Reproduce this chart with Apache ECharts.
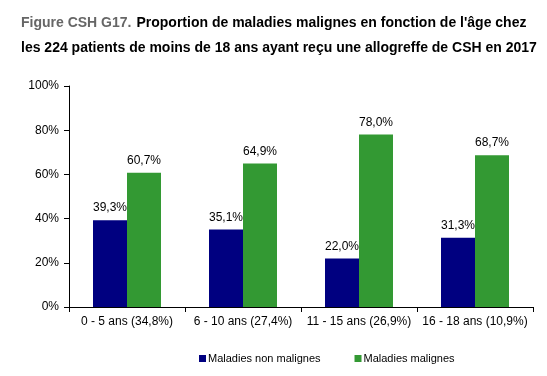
<!DOCTYPE html>
<html>
<head>
<meta charset="utf-8">
<script src="https://cdn.jsdelivr.net/npm/echarts@6/dist/echarts.min.js"></script>
<style>
  html, body { margin: 0; padding: 0; background: #fff; }
  #chart { width: 547px; height: 376px; }
</style>
</head>
<body>
<div id="chart"></div>
<script>
const categories = ['0 - 5 ans (34,8%)', '6 - 10 ans (27,4%)', '11 - 15 ans (26,9%)', '16 - 18 ans (10,9%)'];
const nonMalignes = [39.3, 35.1, 22.0, 31.3];
const malignes = [60.7, 64.9, 78.0, 68.7];
const yTicks = [0, 20, 40, 60, 80, 100];

const chart = echarts.init(document.getElementById('chart'));

const fmt = v => v.toFixed(1).replace('.', ',') + '%';

const option = {
  animation: false,
  textStyle: { fontFamily: 'Liberation Sans, Arial, sans-serif' },
  title: {
    left: 16,
    top: 6,
    text: '{g|Figure CSH G17.} {b|Proportion de maladies malignes en fonction de l\'âge chez}\n{b|les 224 patients de moins de 18 ans ayant reçu une allogreffe de CSH en 2017}',
    textStyle: {
      rich: {
        g: { color: '#666666', fontSize: 14, fontWeight: 'bold', fontFamily: 'Liberation Sans', lineHeight: 25 },
        b: { color: '#000000', fontSize: 14, fontWeight: 'bold', fontFamily: 'Liberation Sans', lineHeight: 25 }
      }
    }
  },
  legend: {
    bottom: 7,
    left: 194,
    itemWidth: 7,
    itemHeight: 7,
    itemGap: 34,
    icon: 'rect',
    textStyle: { fontSize: 11, color: '#000', padding: [0, 0, 0, -3] },
    data: ['Maladies non malignes', 'Maladies malignes']
  },
  grid: { left: 69, right: 14, top: 86, bottom: 69 },
  xAxis: {
    type: 'category',
    data: categories,
    axisLine: { lineStyle: { color: '#000' } },
    axisTick: { show: true, length: 5, lineStyle: { color: '#000' } },
    axisLabel: { color: '#000', fontSize: 12, margin: 9, interval: 0 }
  },
  yAxis: {
    type: 'value',
    min: 0,
    max: 100,
    interval: 20,
    axisLine: { show: true, lineStyle: { color: '#000' } },
    axisTick: { show: true, length: 5, lineStyle: { color: '#000' } },
    splitLine: { show: false },
    axisLabel: {
      color: '#000', fontSize: 12, margin: 10,
      formatter: v => yTicks.includes(v) ? v + '%' : ''
    }
  },
  series: [
    {
      name: 'Maladies non malignes',
      type: 'bar',
      data: nonMalignes,
      barWidth: 34,
      barGap: '0%',
      itemStyle: { color: '#000080' },
      label: { show: true, position: 'top', color: '#000', fontSize: 12, distance: 6, formatter: p => fmt(p.value) }
    },
    {
      name: 'Maladies malignes',
      type: 'bar',
      data: malignes,
      barWidth: 34,
      barGap: '0%',
      itemStyle: { color: '#339933' },
      label: { show: true, position: 'top', color: '#000', fontSize: 12, distance: 6, formatter: p => fmt(p.value) }
    }
  ]
};

chart.setOption(option);
</script>
</body>
</html>
